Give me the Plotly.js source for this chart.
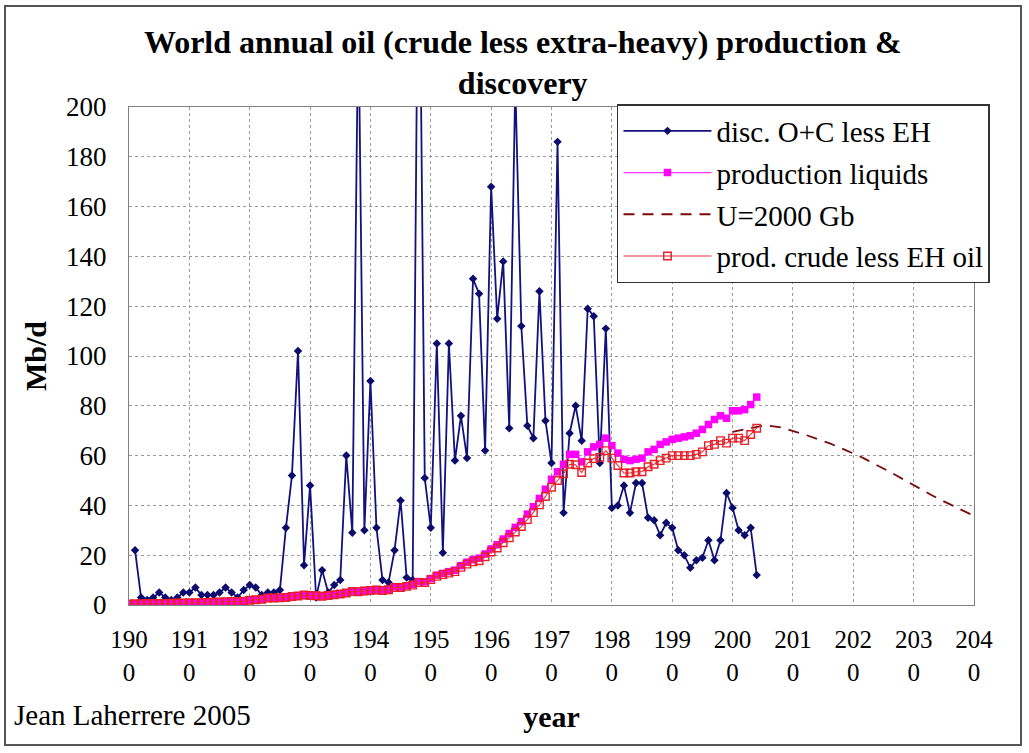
<!DOCTYPE html>
<html><head><meta charset="utf-8">
<script src="https://cdn.plot.ly/plotly-3.0.1.min.js"></script>
<style>
html,body{margin:0;padding:0;background:#fff;}
#wrap{position:relative;width:1029px;height:753px;overflow:hidden;}
#chart{width:1029px;height:753px;}
#frame{position:absolute;left:4px;top:5px;width:1018px;height:741px;border:2px solid #555;box-sizing:border-box;pointer-events:none;}
</style></head><body>
<div id="wrap"><div id="chart"></div><div id="frame"></div></div>
<script>
// ---- data ----
const discStartYear = 1901;
const discovery = [
 22, 3, 2, 3, 5, 3, 2, 3, 5, 5,          // 1901-1910
 7, 4, 4, 4, 5, 7, 5, 3, 6, 8,           // 1911-1920
 7, 4, 5, 5, 6, 31, 52, 102, 16, 48,     // 1921-1930
 3, 14, 5, 8, 10, 60, 29, 240, 30, 90,   // 1931-1940
 31, 10, 9, 22, 42, 11, 10, 300, 51, 31, // 1941-1950
 105, 21, 105, 58, 76, 59, 131, 125, 62, 168, // 1951-1960
 115, 138, 71, 210, 112, 72, 67, 126, 74, 57, // 1961-1970
 186, 37, 69, 80, 66, 119, 116, 57, 111, 39,  // 1971-1980
 40, 48, 37, 49, 49, 35, 34, 28, 33, 31,      // 1981-1990
 22, 20, 15, 18, 19, 26, 18, 26, 45, 39,      // 1991-2000
 30, 28, 31, 12                               // 2001-2004
];
const prodStartYear = 1900;
const productionLiquids = [
 0.4,0.5,0.5,0.6,0.6,0.6,0.6,0.7,0.8,0.8,     // 1900s
 0.9,0.9,0.9,1.0,1.1,1.2,1.3,1.4,1.4,1.5,     // 1910s
 1.9,2.1,2.3,2.8,2.8,2.9,3.0,3.4,3.6,4.1,     // 1920s
 3.9,3.8,3.6,3.9,4.2,4.5,4.9,5.6,5.5,5.8,     // 1930s
 6.0,6.2,6.0,6.3,7.3,7.2,7.7,8.3,9.4,9.3,     // 1940s
 10.6,12.0,12.7,13.4,14.0,15.8,17.2,18.2,18.8,20.5, // 1950s
 22.5,24.2,26.5,28.7,31.2,33.5,36.5,39.5,42.8,46.5, // 1960s
 50.5,53.5,56.5,60.5,60.5,57.5,61.5,63.5,64.5,67,   // 1970s
 64,61,58.5,58,58.5,59,61.5,62.5,64.5,65.5,         // 1980s
 66.5,67,67.5,68,69,70.5,72.5,74.5,76,75,           // 1990s
 78,78,78.5,80.5,83.5                               // 2000-2004
];
const crudeLessEH = [
 0.4,0.5,0.5,0.6,0.6,0.6,0.6,0.7,0.8,0.8,
 0.9,0.9,0.9,1.0,1.1,1.2,1.3,1.4,1.4,1.5,
 1.9,2.1,2.3,2.8,2.8,2.9,3.0,3.4,3.6,4.0,
 3.8,3.7,3.5,3.8,4.1,4.4,4.8,5.4,5.3,5.6,
 5.8,6.0,5.8,6.1,7.0,7.0,7.5,8.0,9.0,9.0,
 10.2,11.5,12.2,12.8,13.4,15.1,16.4,17.3,17.8,19.4,
 21.3,22.9,25.0,27.0,29.3,31.5,34.3,37.1,40.2,43.6,
 47.3,50.0,52.7,56.5,56.3,53.2,57.0,58.8,59.3,62,
 59,56,53,53,53.5,53.5,55.5,56.5,58,59,
 60,60,60,60,60.5,61.5,64,64.5,66,65,
 67,67,66,68.5,71
];
const modelStartYear = 2000;
const modelU2000 = [
 69.5,70,70.5,71,71.5,72,72,71.8,71.3,70.6,   // 2000-2009
 69.7,69.1,68.4,67.6,66.8,65.9,65.0,64.0,63.0,62.0, // 2010-2019
 60.9,59.8,58.6,57.4,56.1,54.8,53.5,52.2,50.8,49.4, // 2020-2029
 48.0,46.7,45.4,44.1,42.8,41.6,40.4,39.2,38.0,36.9, // 2030-2039
 35.8                                               // 2040
];
const seriesNames = ['disc. O+C less EH','production liquids','U=2000 Gb','prod. crude less EH oil'];
const tickYears = [1900,1910,1920,1930,1940,1950,1960,1970,1980,1990,2000,2010,2020,2030,2040];
const tickLabels = ['190<br>0','191<br>0','192<br>0','193<br>0','194<br>0','195<br>0','196<br>0','197<br>0','198<br>0','199<br>0','200<br>0','201<br>0','202<br>0','203<br>0','204<br>0'];

const yrs = (start, arr) => arr.map((_, i) => start + i);
const FONT = "'Liberation Serif', 'DejaVu Serif', serif";

const traces = [
 {x: yrs(discStartYear, discovery), y: discovery, name: seriesNames[0], type: 'scatter', mode: 'lines+markers',
  line: {color: '#12127e', width: 1.8}, marker: {symbol: 'diamond', size: 6.5, color: '#0b0b6e'}, legendgroup: 'a'},
 {x: yrs(prodStartYear, productionLiquids), y: productionLiquids, name: seriesNames[1], type: 'scatter', mode: 'lines+markers',
  line: {color: '#ff33ff', width: 1.2}, marker: {symbol: 'square', size: 7.5, color: '#ff00ff'}, legendgroup: 'b'},
 {x: yrs(modelStartYear, modelU2000), y: modelU2000, name: seriesNames[2], type: 'scatter', mode: 'lines',
  line: {color: '#7a0a0a', width: 1.8, dash: '11px,8px'}, legendgroup: 'c'},
 {x: yrs(prodStartYear, crudeLessEH), y: crudeLessEH, name: seriesNames[3], type: 'scatter', mode: 'lines+markers',
  line: {color: '#e8303a', width: 1.1}, marker: {symbol: 'square-open', size: 7.5, color: '#e8202a', line: {width: 1.4}}, legendgroup: 'd'}
];

const layout = {
 width: 1029, height: 753,
 margin: {l: 129, r: 55, t: 107, b: 148},
 paper_bgcolor: '#fff', plot_bgcolor: '#fff',
 font: {family: FONT, color: '#000', size: 26},
 title: {text: '<b>World annual oil (crude less extra-heavy) production &<br>discovery</b>',
   font: {family: FONT, size: 32, color: '#000'}, x: 0.508, xanchor: 'center', y: 0.93, yanchor: 'top'},
 xaxis: {range: [1900, 2040], tickvals: tickYears, ticktext: tickLabels, tickfont: {size: 25, family: FONT},
   showgrid: true, gridcolor: '#9a9a9a', griddash: 'dot', gridwidth: 1,
   showline: true, linecolor: '#808080', linewidth: 1, mirror: true, zeroline: false, ticks: '',
   ticklabelstandoff: 12,
   title: {text: '<b>year</b>', font: {family: FONT, size: 30}, standoff: 21}},
 yaxis: {range: [0, 200], dtick: 20, tickfont: {size: 27, family: FONT},
   showgrid: true, gridcolor: '#9a9a9a', griddash: 'dot', gridwidth: 1,
   showline: true, linecolor: '#808080', linewidth: 1, mirror: true, zeroline: false, ticks: '',
   ticklabelstandoff: 16,
   title: {text: '<b>Mb/d</b>', font: {family: FONT, size: 30}, standoff: 10}},
 legend: {x: 0.5775, y: 1.006, xanchor: 'left', yanchor: 'top', bgcolor: '#fff', bordercolor: '#333', borderwidth: 1.5,
   font: {family: FONT, size: 29}, itemwidth: 88, traceorder: 'grouped', tracegroupgap: 1},
 annotations: [{text: 'Jean Laherrere 2005', xref: 'paper', yref: 'paper', x: -0.139, y: -0.221, xanchor: 'left', yanchor: 'middle',
   showarrow: false, font: {family: FONT, size: 29, color: '#000'}}],
 showlegend: true
};

Plotly.newPlot('chart', traces, layout, {displayModeBar: false, staticPlot: true});
</script></body></html>
